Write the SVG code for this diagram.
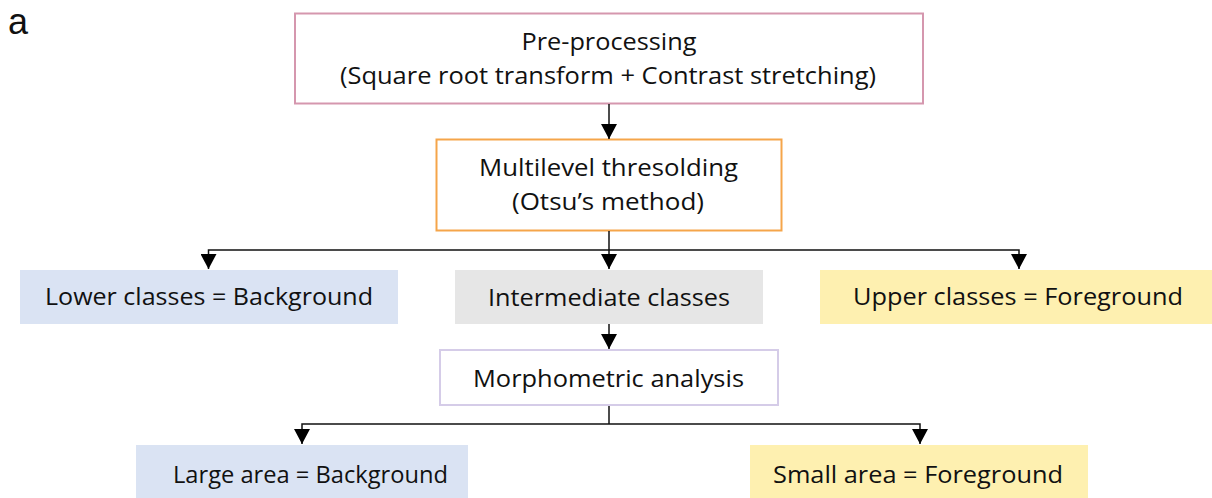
<svg xmlns="http://www.w3.org/2000/svg" width="1212" height="498" viewBox="0 0 1212 498">
<style>
text{font-family:"Open Sans","Liberation Sans",sans-serif;font-size:23px;fill:#111;text-anchor:middle}
.ln{fill:none;stroke:#111;stroke-width:1.5}
</style>
<defs>
<marker id="ah" markerWidth="15" markerHeight="16" refX="15" refY="8" orient="auto" markerUnits="userSpaceOnUse" viewBox="0 0 15 16">
<path d="M0,0 L15,8 L0,16 Z" fill="#000"/>
</marker>
</defs>
<rect width="1212" height="498" fill="#fff"/>
<text x="8" y="34" style="font-family:'Liberation Sans',sans-serif;font-size:36px;text-anchor:start">a</text>
<g id="preprocessing">
<rect x="295" y="13.5" width="628" height="90" fill="#fff" stroke="#D597AE" stroke-width="2"/>
<text x="609" y="50" textLength="175" lengthAdjust="spacingAndGlyphs">Pre-processing</text>
<text x="608" y="84" textLength="536" lengthAdjust="spacingAndGlyphs">(Square root transform + Contrast stretching)</text>
</g>
<g id="multilevel">
<rect x="436.5" y="139.5" width="345" height="91" fill="#fff" stroke="#F5A54A" stroke-width="2"/>
<text x="608.5" y="176" textLength="259" lengthAdjust="spacingAndGlyphs">Multilevel thresolding</text>
<text x="608" y="210" textLength="192" lengthAdjust="spacingAndGlyphs">(Otsu’s method)</text>
</g>
<g id="lower">
<rect x="20" y="270" width="378" height="54" fill="#DAE3F3"/>
<text x="209" y="305" textLength="328" lengthAdjust="spacingAndGlyphs">Lower classes = Background</text>
</g>
<g id="intermediate">
<rect x="455" y="270" width="308" height="54" fill="#E6E6E6"/>
<text x="609" y="306" textLength="242" lengthAdjust="spacingAndGlyphs">Intermediate classes</text>
</g>
<g id="upper">
<rect x="820" y="270" width="400" height="54" fill="#FEF0B0"/>
<text x="1018" y="305" textLength="330" lengthAdjust="spacingAndGlyphs">Upper classes = Foreground</text>
</g>
<g id="morphometric">
<rect x="440" y="350" width="338" height="55" fill="#fff" stroke="#D5CCE8" stroke-width="2"/>
<text x="608.5" y="387" textLength="271" lengthAdjust="spacingAndGlyphs">Morphometric analysis</text>
</g>
<g id="large">
<rect x="136" y="445" width="332" height="55" fill="#DAE3F3"/>
<text x="310.5" y="483" textLength="275" lengthAdjust="spacingAndGlyphs">Large area = Background</text>
</g>
<g id="small">
<rect x="750" y="445" width="338" height="55" fill="#FEF0B0"/>
<text x="918" y="483" textLength="290" lengthAdjust="spacingAndGlyphs">Small area = Foreground</text>
</g>
<g id="connectors">
<path class="ln" d="M609,104 V139" marker-end="url(#ah)"/>
<path class="ln" d="M609,231 V250"/>
<path class="ln" d="M609,250 H208.5 V269" marker-end="url(#ah)"/>
<path class="ln" d="M609,250 V269" marker-end="url(#ah)"/>
<path class="ln" d="M609,250 H1019 V269" marker-end="url(#ah)"/>
<path class="ln" d="M609,324 V349" marker-end="url(#ah)"/>
<path class="ln" d="M609,406 V424"/>
<path class="ln" d="M609,424 H302 V444" marker-end="url(#ah)"/>
<path class="ln" d="M609,424 H920 V444" marker-end="url(#ah)"/>
</g>
</svg>
